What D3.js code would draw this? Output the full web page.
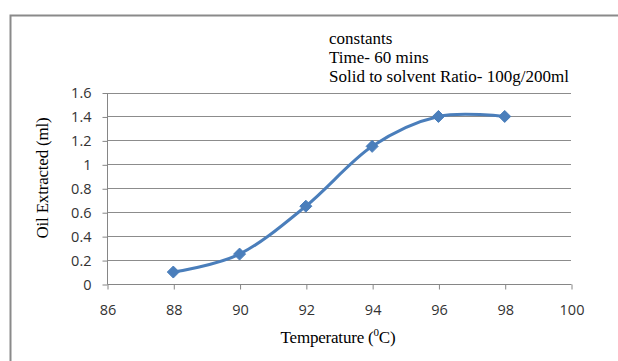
<!DOCTYPE html>
<html><head><meta charset="utf-8">
<script src="https://cdn.jsdelivr.net/npm/d3@7"></script>
<style>
html,body{margin:0;padding:0;background:#fff;}
svg{display:block;}
</style></head>
<body>
<svg id="chart" width="618" height="361"></svg>
<script>
const temperature = [88, 90, 92, 94, 96, 98];
const oilExtracted = [0.1, 0.25, 0.65, 1.15, 1.4, 1.4];
const xTicks = [86, 88, 90, 92, 94, 96, 98, 100];
const yTicks = [0, 0.2, 0.4, 0.6, 0.8, 1, 1.2, 1.4, 1.6];
const notes = ["constants", "Time- 60 mins", "Solid to solvent Ratio- 100g/200ml"];

const svg = d3.select("#chart");
const x = d3.scaleLinear().domain([86, 100]).range([107, 571]);
const y = d3.scaleLinear().domain([0, 1.6]).range([284, 92.5]);
const serif = "'Liberation Serif', 'Times New Roman', serif";

// outer frame
svg.append("rect").attr("x", 10.5).attr("y", 15.5).attr("width", 700).attr("height", 400)
  .attr("fill", "none").attr("stroke", "#8a8a8a").attr("stroke-width", 2);

// gridlines
svg.append("g").selectAll("line").data(yTicks.filter(d => d > 0)).join("line")
  .attr("x1", x(86)).attr("x2", x(100))
  .attr("y1", d => Math.round(y(d)) + 0.5).attr("y2", d => Math.round(y(d)) + 0.5)
  .attr("stroke", "#8c8c8c").attr("stroke-width", 1);

// axes
const yAxis = d3.axisLeft(y).tickValues(yTicks).tickSize(5).tickPadding(11)
  .tickFormat(d => d3.format("")(d));
const xAxis = d3.axisBottom(x).tickValues(xTicks).tickSize(5).tickPadding(15);
const gy = svg.append("g").attr("transform", `translate(${Math.round(x(86)) + 0.5},0.5)`).call(yAxis);
const gx = svg.append("g").attr("transform", `translate(0.5,${Math.round(y(0)) + 0.5})`).call(xAxis);
[gx, gy].forEach(g => {
  g.select(".domain").attr("stroke", "#868686");
  g.selectAll(".tick line").attr("stroke", "#868686");
  g.selectAll("text").attr("font-family", "'Open Sans', sans-serif").attr("font-size", 14.5).attr("fill", "#333");
});
gy.select(".domain").attr("d", `M0,${Math.round(y(1.6))}V${Math.round(y(0))}`);
gx.select(".domain").attr("d", `M${Math.round(x(86))},0H${Math.round(x(100))}`);

// line
const pts = temperature.map((t, i) => [x(t), y(oilExtracted[i])]);
svg.append("path").datum(pts)
  .attr("d", d3.line().curve(d3.curveCardinal.tension(0)))
  .attr("fill", "none").attr("stroke", "#4a7ebb").attr("stroke-width", 3);

// markers
svg.append("g").selectAll("path").data(pts).join("path")
  .attr("transform", d => `translate(${d[0]},${d[1]})`)
  .attr("d", "M0,-6L6,0L0,6L-6,0Z")
  .attr("fill", "#4a7ebb").attr("stroke", "#4a7ebb").attr("stroke-width", 1);

// annotation
svg.append("g").selectAll("text").data(notes).join("text")
  .attr("x", 329).attr("y", (d, i) => 44 + i * 19)
  .attr("font-family", serif).attr("font-size", 17)
  .attr("fill", "#000").text(d => d);

// axis titles
svg.append("text").attr("transform", "translate(48,178) rotate(-90)")
  .attr("text-anchor", "middle")
  .attr("font-family", serif).attr("font-size", 17).attr("letter-spacing", -0.2)
  .attr("fill", "#000").text("Oil Extracted (ml)");

const xt = svg.append("text").attr("x", 338).attr("y", 343).attr("text-anchor", "middle")
  .attr("font-family", serif).attr("font-size", 17).attr("letter-spacing", -0.2)
  .attr("fill", "#000");
xt.append("tspan").text("Temperature (");
xt.append("tspan").attr("font-size", 11).attr("dy", -7).text("0");
xt.append("tspan").attr("dy", 7).text("C)");
</script>
</body></html>
